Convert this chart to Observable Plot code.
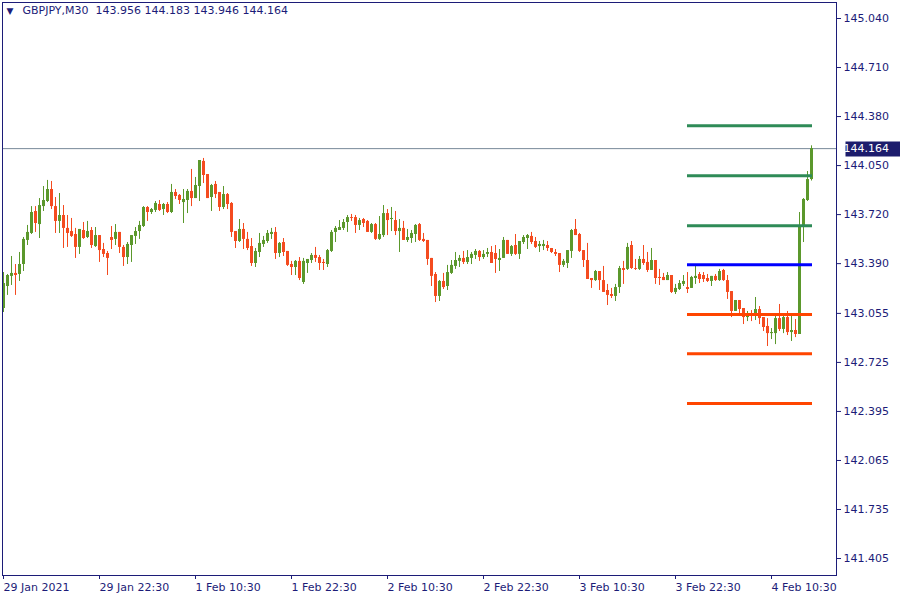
<!DOCTYPE html>
<html>
<head>
<meta charset="utf-8">
<script src="https://cdn.jsdelivr.net/npm/d3@7"></script>
<script src="https://cdn.jsdelivr.net/npm/@observablehq/plot@0.6"></script>
<style>
  html, body { margin: 0; padding: 0; background: #ffffff; }
  #chart { width: 900px; height: 600px; }
</style>
</head>
<body>
<div id="chart"></div>
<script>
const symbol = "GBPJPY,M30";

const open = [
143.088,143.236,143.304,143.324,143.317,143.384,143.546,143.593,143.741,143.653,
143.774,143.808,143.889,143.774,143.674,143.714,143.627,143.606,143.586,143.499,
143.613,143.566,143.613,143.505,143.579,143.485,143.458,143.566,143.553,143.600,
143.499,143.431,143.512,143.573,143.606,143.640,143.768,143.734,143.748,143.788,
143.754,143.788,143.734,143.869,143.849,143.801,143.815,143.876,143.828,143.909,
144.078,143.990,143.835,143.923,143.869,143.768,143.855,143.795,143.606,143.539,
143.620,143.553,143.505,143.391,143.465,143.519,143.539,143.586,143.600,143.458,
143.532,143.472,143.384,143.364,143.405,143.263,143.391,143.411,143.445,143.431,
143.398,143.384,143.472,143.600,143.613,143.627,143.667,143.700,143.700,143.647,
143.687,143.674,143.600,143.653,143.553,143.579,143.727,143.687,143.680,143.606,
143.627,143.546,143.559,143.586,143.653,143.553,143.546,143.425,143.317,143.169,
143.270,143.236,143.324,143.371,143.405,143.425,143.398,143.425,143.445,143.472,
143.431,143.452,143.465,143.458,143.411,143.425,143.546,143.452,143.512,143.452,
143.532,143.559,143.573,143.539,143.505,143.505,143.512,143.492,143.465,143.458,
143.378,143.391,143.472,143.620,143.586,143.478,143.411,143.290,143.276,143.337,
143.276,143.209,143.182,143.169,143.229,143.357,143.351,143.512,143.357,143.351,
143.418,143.398,143.344,143.411,143.297,143.297,143.276,143.310,143.196,143.216,
143.250,143.229,143.223,143.290,143.317,143.310,143.290,143.270,143.304,143.276,
143.344,143.276,143.202,143.068,143.142,143.088,143.027,143.054,143.034,143.081,
143.027,142.967,142.919,142.919,143.020,142.947,143.027,142.926,142.940,142.913,
143.633,143.815,143.956];

const high = [
143.330,143.317,143.438,143.384,143.465,143.566,143.647,143.774,143.774,143.828,
143.909,143.950,143.943,143.835,143.862,143.781,143.714,143.694,143.627,143.620,
143.667,143.674,143.633,143.633,143.579,143.526,143.472,143.640,143.653,143.600,
143.512,143.532,143.579,143.633,143.674,143.774,143.774,143.761,143.808,143.815,
143.795,143.801,143.923,143.889,143.855,143.889,143.889,144.024,143.970,144.084,
144.098,143.990,143.923,143.943,143.869,143.909,143.862,143.801,143.606,143.687,
143.660,143.600,143.559,143.492,143.593,143.573,143.613,143.627,143.633,143.532,
143.559,143.472,143.405,143.411,143.431,143.425,143.418,143.458,143.499,143.445,
143.418,143.485,143.613,143.640,143.680,143.687,143.714,143.721,143.714,143.694,
143.694,143.680,143.660,143.660,143.707,143.781,143.754,143.768,143.741,143.687,
143.674,143.620,143.613,143.653,143.660,143.593,143.546,143.425,143.330,143.276,
143.324,143.378,143.411,143.465,143.445,143.472,143.478,143.465,143.485,143.478,
143.478,143.492,143.505,143.512,143.485,143.566,143.546,143.512,143.586,143.539,
143.579,143.586,143.600,143.566,143.539,143.546,143.539,143.492,143.485,143.458,
143.418,143.478,143.620,143.687,143.593,143.478,143.526,143.290,143.344,143.337,
143.371,143.250,143.223,143.250,143.371,143.405,143.526,143.539,143.418,143.438,
143.512,143.465,143.492,143.411,143.351,143.324,143.330,143.310,143.250,143.276,
143.310,143.330,143.304,143.378,143.330,143.330,143.317,143.304,143.317,143.351,
143.351,143.310,143.202,143.142,143.142,143.088,143.068,143.074,143.162,143.101,
143.027,143.020,142.953,143.054,143.115,143.054,143.068,143.034,143.014,143.734,
143.828,144.010,144.183];

const low = [
143.061,143.176,143.243,143.176,143.270,143.337,143.512,143.586,143.600,143.559,
143.741,143.801,143.754,143.593,143.593,143.492,143.499,143.566,143.425,143.452,
143.553,143.559,143.492,143.499,143.398,143.431,143.310,143.485,143.512,143.458,
143.371,143.384,143.398,143.519,143.553,143.633,143.674,143.721,143.734,143.741,
143.714,143.727,143.727,143.822,143.788,143.660,143.727,143.774,143.828,143.808,
143.929,143.828,143.741,143.828,143.741,143.754,143.754,143.566,143.492,143.532,
143.485,143.478,143.371,143.364,143.431,143.499,143.526,143.553,143.418,143.431,
143.438,143.371,143.310,143.310,143.276,143.250,143.324,143.391,143.398,143.344,
143.344,143.364,143.465,143.532,143.613,143.613,143.600,143.674,143.593,143.613,
143.633,143.600,143.593,143.546,143.546,143.566,143.579,143.606,143.579,143.465,
143.546,143.532,143.526,143.532,143.539,143.532,143.378,143.236,143.128,143.135,
143.216,143.209,143.317,143.351,143.364,143.384,143.384,143.384,143.418,143.405,
143.418,143.431,143.391,143.324,143.337,143.425,143.452,143.438,143.445,143.418,
143.519,143.485,143.519,143.492,143.465,143.478,143.472,143.458,143.438,143.330,
143.364,143.357,143.425,143.579,143.465,143.364,143.283,143.223,143.270,143.209,
143.196,143.108,143.155,143.135,143.189,143.250,143.344,143.351,143.344,143.344,
143.378,143.330,143.344,143.250,143.243,143.276,143.276,143.189,143.182,143.209,
143.236,143.189,143.223,143.250,143.256,143.263,143.263,143.236,143.270,143.270,
143.270,143.149,143.027,143.068,143.047,142.980,143.000,143.000,143.007,142.980,
142.933,142.832,142.879,142.845,142.933,142.919,142.906,142.866,142.892,142.913,
143.532,143.808,143.946];

const close = [
143.256,143.310,143.324,143.310,143.384,143.553,143.600,143.734,143.660,143.781,
143.815,143.889,143.774,143.674,143.714,143.627,143.593,143.573,143.499,143.620,
143.559,143.606,143.512,143.579,143.478,143.452,143.425,143.546,143.600,143.499,
143.431,143.519,143.579,143.606,143.647,143.768,143.734,143.754,143.795,143.748,
143.788,143.734,143.869,143.842,143.815,143.822,143.876,143.828,143.916,144.084,
143.983,143.828,143.916,143.855,143.768,143.855,143.788,143.600,143.539,143.620,
143.553,143.492,143.391,143.472,143.526,143.546,143.593,143.600,143.458,143.526,
143.465,143.378,143.364,143.405,143.290,143.405,143.418,143.445,143.425,143.391,
143.391,143.478,143.600,143.627,143.633,143.667,143.700,143.694,143.647,143.680,
143.660,143.600,143.653,143.553,143.586,143.727,143.680,143.694,143.606,143.627,
143.546,143.566,143.593,143.647,143.546,143.539,143.418,143.304,143.169,143.270,
143.229,143.330,143.378,143.411,143.425,143.398,143.431,143.452,143.472,143.431,
143.452,143.465,143.391,143.418,143.425,143.546,143.452,143.505,143.452,143.539,
143.566,143.579,143.532,143.499,143.519,143.519,143.492,143.465,143.452,143.378,
143.405,143.478,143.613,143.579,143.472,143.411,143.283,143.276,143.337,143.276,
143.196,143.176,143.169,143.229,143.357,143.344,143.499,143.357,143.351,143.418,
143.391,143.344,143.411,143.290,143.290,143.276,143.310,143.196,143.223,143.256,
143.270,143.216,143.297,143.304,143.283,143.283,143.270,143.304,143.276,143.337,
143.276,143.196,143.068,143.142,143.081,143.027,143.054,143.034,143.081,143.020,
142.960,142.919,142.926,143.020,142.947,143.027,142.926,142.940,142.913,143.633,
143.822,143.956,144.164];

// x-axis: bar number of each labelled bar and its label
const xTickBars = [1, 25, 49, 73, 97, 121, 145, 169, 193];
const xTickLabels = ["29 Jan 2021", "29 Jan 22:30", "1 Feb 10:30", "1 Feb 22:30", "2 Feb 10:30",
                     "2 Feb 22:30", "3 Feb 10:30", "3 Feb 22:30", "4 Feb 10:30"];

// y-axis price labels
const yTicks = [145.040, 144.710, 144.380, 144.050, 143.720, 143.390, 143.055, 142.725, 142.395, 142.065, 141.735, 141.405];

// horizontal level lines (price, colour), drawn from bar levelStart to bar levelEnd
const levelPrices = [144.318, 143.981, 143.645, 143.382, 143.048, 142.783, 142.449];
const levelColors = ["#2e8b57", "#2e8b57", "#2e8b57", "#0000ff", "#ff4500", "#ff4500", "#ff4500"];
const levelStart = 172;
const levelEnd = 203.25;

const upColor = "#5b982c";
const downColor = "#f44b1f";
const navy = "#1c1c78";

const candles = open.map((o, k) => ({ bar: k + 1, o, h: high[k], l: low[k], c: close[k] }));
const levels = levelPrices.map((p, k) => ({ price: p, color: levelColors[k], x1: levelStart, x2: levelEnd }));
const last = candles[candles.length - 1];
const lastPrice = last.c;
const labelOf = new Map(xTickBars.map((b, k) => [b, xTickLabels[k]]));
const header = `${symbol}  ${last.o.toFixed(3)} ${last.h.toFixed(3)} ${last.l.toFixed(3)} ${last.c.toFixed(3)}`;
const col = d => d.c >= d.o ? upColor : downColor;

const chart = Plot.plot({
  width: 900,
  height: 600,
  marginLeft: 2,
  marginRight: 64,
  marginTop: 2,
  marginBottom: 25,
  style: { background: "#ffffff", color: navy, fontFamily: "DejaVu Sans", fontSize: "11px" },
  x: { domain: [0.75, 209.25], axis: null },
  y: { domain: [141.2907, 145.1477], axis: null },
  marks: [
    Plot.ruleY([lastPrice], { y: d => d, stroke: "#778899", strokeWidth: 1 }),
    Plot.ruleX(candles, { x: "bar", y1: "l", y2: "h", stroke: col, strokeWidth: 1 }),
    Plot.ruleX(candles, { x: "bar", y1: "o", y2: "c", stroke: col, strokeWidth: 3 }),
    Plot.ruleY(levels, { y: "price", x1: "x1", x2: "x2", stroke: "color", strokeWidth: 3 }),
    Plot.frame({ stroke: navy, strokeWidth: 1 }),
    Plot.axisY(yTicks, {
      anchor: "right", tickFormat: d => d.toFixed(3), tickSize: 4, tickPadding: 3,
      stroke: navy, fill: navy, fontSize: 11
    }),
    Plot.axisX(xTickBars, {
      anchor: "bottom", tickFormat: d => labelOf.get(d), tickSize: 4, tickPadding: 4,
      textAnchor: "start", dx: 0, stroke: navy, fill: navy, fontSize: 11
    }),
    Plot.text(["\u25BC"], {
      frameAnchor: "top-left", dx: 4, dy: 5, fill: navy, fontSize: 9, textAnchor: "start"
    }),
    Plot.text([header], {
      frameAnchor: "top-left", dx: 20, dy: 4, fill: navy, fontSize: 11, textAnchor: "start"
    }),
    Plot.text([lastPrice], {
      y: d => d, frameAnchor: "right", dx: 7, textAnchor: "start", fill: "#ffffff", fontSize: 11,
      text: d => d.toFixed(3),
      render(index, scales, values, dims, context, next) {
        const g = next(index, scales, values, dims, context);
        const yy = values.y[0];
        const xx = dims.width - dims.marginRight;
        const r = document.createElementNS("http://www.w3.org/2000/svg", "rect");
        r.setAttribute("x", xx + 2);
        r.setAttribute("y", Math.round(yy) - 7);
        r.setAttribute("width", 57);
        r.setAttribute("height", 15);
        r.setAttribute("fill", "#1c1c6c");
        g.insertBefore(r, g.firstChild);
        return g;
      }
    })
  ]
});

document.getElementById("chart").appendChild(chart);
</script>
</body>
</html>
